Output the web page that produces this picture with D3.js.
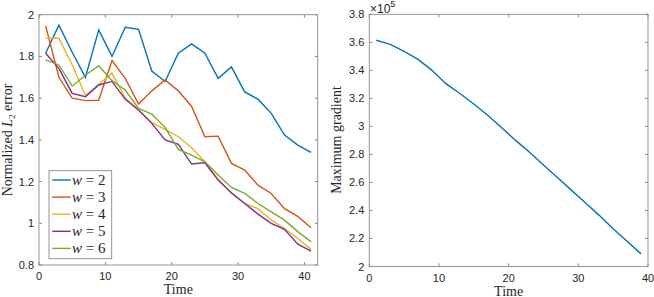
<!DOCTYPE html>
<html>
<head>
<meta charset="utf-8">
<script src="https://cdn.jsdelivr.net/npm/d3@7"></script>
<style>
  body { margin: 0; background: #fff; }
  svg text { fill: #262626; }
</style>
</head>
<body>
<div id="chart"></div>
<script>
// left panel: normalized L2 error per window size
const timeL = [1,3,5,7,9,11,13,15,17,19,21,23,25,27,29,31,33,35,37,39,41];
const w2 = [1.815,1.95,1.82,1.70,1.927,1.80,1.94,1.93,1.73,1.68,1.815,1.86,1.815,1.695,1.75,1.63,1.595,1.527,1.423,1.375,1.34];
const w3 = [1.946,1.70,1.60,1.588,1.59,1.78,1.695,1.572,1.635,1.687,1.635,1.56,1.415,1.418,1.287,1.255,1.183,1.143,1.07,1.033,0.979];
const w4 = [1.887,1.887,1.76,1.613,1.665,1.72,1.60,1.543,1.482,1.45,1.415,1.362,1.295,1.21,1.143,1.095,1.07,1.015,0.975,0.927,0.875];
const w5 = [1.815,1.743,1.623,1.607,1.663,1.68,1.594,1.543,1.479,1.40,1.378,1.284,1.29,1.207,1.146,1.095,1.044,1.0,0.971,0.90,0.867];
const w6 = [1.783,1.759,1.658,1.71,1.755,1.684,1.639,1.551,1.524,1.46,1.354,1.327,1.295,1.231,1.172,1.143,1.095,1.055,1.015,0.96,0.911];
const seriesNames = ["2","3","4","5","6"];
const seriesColors = ["#0072BD","#D95319","#EDB120","#7E2F8E","#77AC30"];

// right panel: maximum gradient (x 1e5)
const timeR = [1,3,5,7,9,11,13,15,17,19,21,23,25,27,29,31,33,35,37,39];
const maxGrad = [3.615,3.585,3.535,3.478,3.40,3.305,3.235,3.16,3.08,2.99,2.90,2.815,2.725,2.635,2.545,2.455,2.365,2.27,2.18,2.09];

const xTicks = [0,10,20,30,40];
const yTicksL = [0.8,1,1.2,1.4,1.6,1.8,2];
const yTicksR = [2,2.2,2.4,2.6,2.8,3,3.2,3.4,3.6,3.8];

const W = 654, H = 297;
const svg = d3.select("#chart").append("svg").attr("width", W).attr("height", H);

const tickFont = "Liberation Sans, Arial, sans-serif";
const labelFont = "Liberation Serif, Times New Roman, serif";

function panel(x0, x1, y0, y1, xDom, yDom, yTicks, yFmt) {
  const x = d3.scaleLinear().domain(xDom).range([x0, x1]);
  const y = d3.scaleLinear().domain(yDom).range([y1, y0]);
  const g = svg.append("g");
  // box
  g.append("rect").attr("x", x0).attr("y", y0).attr("width", x1 - x0).attr("height", y1 - y0)
    .attr("fill", "none").attr("stroke", "#8a8a8a").attr("stroke-width", 0.9);
  // ticks inward on all sides
  xTicks.forEach(t => {
    g.append("line").attr("x1", x(t)).attr("x2", x(t)).attr("y1", y1).attr("y2", y1 - 3).attr("stroke", "#8a8a8a");
    g.append("line").attr("x1", x(t)).attr("x2", x(t)).attr("y1", y0).attr("y2", y0 + 3).attr("stroke", "#8a8a8a");
    g.append("text").attr("x", x(t)).attr("y", y1 + 15).attr("text-anchor", "middle")
      .attr("font-family", tickFont).attr("font-size", 11).text(t);
  });
  yTicks.forEach(t => {
    g.append("line").attr("x1", x0).attr("x2", x0 + 3).attr("y1", y(t)).attr("y2", y(t)).attr("stroke", "#8a8a8a");
    g.append("line").attr("x1", x1).attr("x2", x1 - 3).attr("y1", y(t)).attr("y2", y(t)).attr("stroke", "#8a8a8a");
    g.append("text").attr("x", x0 - 5).attr("y", y(t) + 4).attr("text-anchor", "end")
      .attr("font-family", tickFont).attr("font-size", 11).text(yFmt(t));
  });
  g.append("text").attr("x", (x0 + x1) / 2).attr("y", y1 + 29).attr("text-anchor", "middle")
    .attr("font-family", labelFont).attr("font-size", 14).text("Time");
  return { x, y, g };
}

// left
const L = panel(39, 317.7, 14.7, 265, [0, 42], [0.8, 2], yTicksL, d => d);
const allW = [w2, w3, w4, w5, w6];
const lineL = d3.line().x((d, i) => L.x(timeL[i])).y(d => L.y(d));
allW.forEach((s, k) => {
  L.g.append("path").datum(s).attr("d", lineL).attr("fill", "none")
    .attr("stroke", seriesColors[k]).attr("stroke-width", 1.4);
});
const ylab = L.g.append("text").attr("transform", "translate(12,140) rotate(-90)")
  .attr("text-anchor", "middle").attr("font-family", labelFont).attr("font-size", 14);
ylab.append("tspan").text("Normalized ");
ylab.append("tspan").attr("font-style", "italic").text("L");
ylab.append("tspan").attr("font-size", 9).attr("dy", 3).text("2");
ylab.append("tspan").attr("dy", -3).text(" error");

// legend
const leg = L.g.append("g");
leg.append("rect").attr("x", 49).attr("y", 170.7).attr("width", 62.7).attr("height", 88)
  .attr("fill", "#fff").attr("stroke", "#8a8a8a").attr("stroke-width", 0.9);
seriesNames.forEach((n, k) => {
  const yy = 180 + k * 17.1;
  leg.append("line").attr("x1", 52.3).attr("x2", 70.7).attr("y1", yy).attr("y2", yy)
    .attr("stroke", seriesColors[k]).attr("stroke-width", 1.4);
  const t = leg.append("text").attr("x", 72).attr("y", yy + 5)
    .attr("font-family", labelFont).attr("font-size", 15);
  t.append("tspan").attr("font-style", "italic").text("w");
  t.append("tspan").text(" = " + n);
});

// right
const R = panel(369.3, 648, 14.3, 266.5, [0, 40], [2, 3.8], yTicksR, d => d);
R.g.append("path").datum(maxGrad)
  .attr("d", d3.line().x((d, i) => R.x(timeR[i])).y(d => R.y(d)))
  .attr("fill", "none").attr("stroke", seriesColors[0]).attr("stroke-width", 1.4);
R.g.append("text").attr("transform", "translate(341,140) rotate(-90)")
  .attr("text-anchor", "middle").attr("font-family", labelFont).attr("font-size", 14).text("Maximum gradient");
const ex = R.g.append("text").attr("x", 370).attr("y", 13).attr("font-family", tickFont).attr("font-size", 12);
ex.append("tspan").text("\u00d710");
ex.append("tspan").attr("font-size", 9).attr("dy", -6).text("5");
</script>
</body>
</html>
